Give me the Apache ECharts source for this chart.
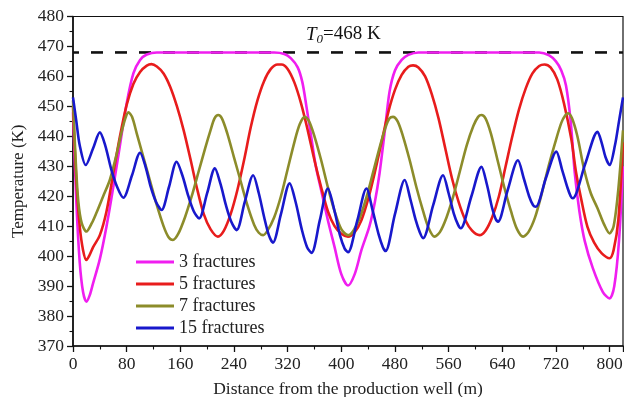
<!DOCTYPE html>
<html>
<head>
<meta charset="utf-8">
<script src="https://cdn.jsdelivr.net/npm/echarts@6/dist/echarts.min.js"></script>
<style>
  html, body { margin: 0; padding: 0; background: #fff; }
  #chart { width: 624px; height: 397px; }
</style>
</head>
<body>
<div id="chart"></div>
<script>
// Temperature profiles along the horizontal well for different fracture counts
const seriesNames = ['3 fractures', '5 fractures', '7 fractures', '15 fractures'];
const xTicks = [0, 80, 160, 240, 320, 400, 480, 560, 640, 720, 800];
const yTicks = [370, 380, 390, 400, 410, 420, 430, 440, 450, 460, 470, 480];
const initialTemp = 468; // T0, reservoir initial temperature (K)
const wellLength = 820;

// [distance (m), temperature (K)]
const fractures3 = [
  [0, 448], [5, 418], [10, 398], [15, 388], [20, 384.8], [25, 387], [30, 391], [40, 399],
  [50, 410], [60, 423], [70, 437], [80, 451], [90, 461], [100, 465.5], [110, 467.3],
  [125, 468], [300, 468], [315, 467.5], [325, 466], [335, 463], [342, 458], [348, 450],
  [355, 440], [362, 430], [370, 422], [380, 412], [390, 403], [400, 394], [410, 390.2],
  [420, 394], [430, 402], [442, 410], [450, 418], [457, 427.6], [465, 442], [472, 455],
  [480, 462], [490, 465.5], [500, 467.2], [515, 468], [695, 468], [710, 467], [720, 465],
  [728, 462], [735, 457], [742, 445], [748, 428], [755, 415], [763, 405], [775, 396],
  [790, 388], [800, 385.9], [807, 390], [814, 405], [820, 430]
];
const fractures5 = [
  [0, 450], [5, 425], [10, 410], [15, 402], [20, 398.7], [25, 400.5], [30, 403], [40, 407],
  [50, 415], [60, 427.5], [70, 440], [80, 450.5], [90, 457.5], [100, 461.5], [110, 463.6],
  [117, 464.1], [125, 463.3], [135, 461], [145, 456.5], [155, 450], [165, 442], [175, 432.5],
  [185, 422.5], [195, 414], [205, 409], [216, 406.5], [225, 408.5], [235, 414], [245, 422],
  [255, 432], [265, 443], [275, 452], [285, 458.5], [295, 462.5], [305, 464], [311, 464],
  [320, 462.5], [330, 458], [340, 451], [350, 442], [360, 432], [370, 423], [380, 415],
  [390, 410], [400, 407.5], [410, 406.5], [420, 408], [430, 412], [440, 419], [450, 428],
  [460, 438], [470, 448], [480, 455.5], [490, 460.5], [500, 463.2], [507, 463.7],
  [515, 463], [525, 460], [535, 454], [545, 446], [555, 436], [565, 426], [575, 418],
  [585, 412], [595, 408.5], [606, 407], [615, 408.5], [625, 413], [635, 420], [645, 430],
  [655, 440], [665, 449], [675, 456], [685, 461], [695, 463.5], [703, 464], [712, 463],
  [722, 459], [732, 451], [743, 439], [750, 428], [758, 418.7], [767, 409.8], [777, 404.5],
  [788, 401], [800, 399.3], [806, 402], [813, 412], [820, 438]
];
const fractures7 = [
  [0, 452], [4, 432], [8, 418], [13, 411], [20, 408.2], [28, 411], [35, 414.5], [45, 420],
  [55, 425.5], [65, 434], [72, 441], [78, 446], [82.5, 448], [88, 446.5], [95, 441],
  [105, 433], [115, 425], [125, 417], [135, 410], [142, 406.5], [149, 405.4], [157, 407.5],
  [167, 413], [177, 420], [187, 428], [197, 436], [205, 442], [211, 446], [216.5, 447.1],
  [222, 446], [230, 441], [240, 433], [250, 425], [260, 417], [270, 410.5], [277, 407.8],
  [283.5, 407], [290, 408.5], [300, 413], [310, 420], [320, 429], [330, 438], [338, 444],
  [345.6, 446.5], [352, 445], [360, 440], [370, 432], [380, 423], [390, 415], [400, 409],
  [410, 407], [418, 408.5], [428, 413], [438, 420], [448, 428.5], [458, 437], [466, 443],
  [472, 446], [477, 446.5], [484, 445], [492, 440], [502, 432], [512, 423], [522, 415],
  [530, 409.5], [539, 406.5], [547, 408], [557, 413], [567, 420], [577, 428.5], [587, 437],
  [597, 443.5], [604, 446.5], [609, 447.1], [615, 446], [623, 441], [633, 432], [643, 423],
  [653, 415], [662, 409], [671, 406.5], [679, 408], [689, 413], [699, 421], [709, 430],
  [719, 438], [728, 444.5], [734, 447], [738, 447.7], [744, 446], [752, 440], [762, 429],
  [772, 421], [782, 416], [792, 410.5], [800, 407.6], [806, 410], [812, 420], [816, 430],
  [820, 442]
];
const fractures15 = [
  [0, 453], [5, 445], [10, 437], [19, 430.4], [30, 436], [40, 441.3], [48, 437], [57, 429],
  [66, 423], [75, 419.5], [88, 427], [100, 434.5], [108, 430], [116, 423], [124, 418],
  [132, 415.4], [143, 423], [154.5, 431.5], [163, 427], [172, 420], [180, 415], [188, 412.6],
  [200, 421], [211.5, 429.3], [220, 424], [228, 417], [236, 411.5], [244, 408.7], [256, 418],
  [268.6, 427], [277, 421], [285, 413], [292, 407], [298, 404.5], [310, 414], [323, 424.3],
  [332, 418], [341, 409], [349, 403], [355.6, 401.1], [368, 412], [380, 422.6], [390, 415],
  [398, 407], [405, 402.5], [410, 401.3], [424, 412], [437.5, 422.6], [447, 415], [456, 407],
  [462, 403], [466, 401.7], [480, 414], [494.6, 425.4], [503, 419], [511, 412], [517, 408],
  [522, 406], [537, 417], [551.7, 427], [560, 421], [568, 414], [574, 410.5], [578, 409.3],
  [594, 420], [609, 429.8], [617, 424], [625, 416], [630, 412.5], [633.6, 411.5], [648, 422],
  [663.4, 432], [672, 426], [680, 420], [686, 417], [690, 416.5], [705, 426], [720.6, 434.9],
  [729, 429], [737, 423], [742, 420], [745, 419.3], [764, 431], [782, 441.5], [788, 438],
  [794, 433], [800, 430.4], [808, 437], [814, 445], [820, 453]
];

const colors = ['#f01ef0', '#e81c1c', '#8c8c2a', '#1818cc'];
const serif = '"Liberation Serif", "Times New Roman", "DejaVu Serif", serif';

const chart = echarts.init(document.getElementById('chart'), null, { renderer: 'canvas' });

function curve(name, data, color, z) {
  return {
    name: name,
    type: 'line',
    data: data,
    symbol: 'none',
    smooth: 0.3,
    z: z,
    lineStyle: { color: color, width: 2.6 },
    itemStyle: { color: color }
  };
}

chart.setOption({
  animation: false,
  backgroundColor: '#fff',
  grid: {
    left: 73, right: 1, top: 16.5, bottom: 51,
    outerBoundsMode: 'none',
    show: true, borderColor: '#111', borderWidth: 1.2, backgroundColor: 'transparent'
  },
  legend: {
    data: seriesNames,
    orient: 'vertical',
    left: 136, top: 253,
    padding: 0,
    icon: 'rect',
    itemWidth: 38, itemHeight: 3, itemGap: 4,
    textStyle: { fontFamily: serif, fontSize: 18, color: '#222', lineHeight: 18 }
  },
  xAxis: {
    type: 'value',
    min: 0, max: wellLength, interval: 80,
    name: 'Distance from the production well (m)',
    nameLocation: 'middle', nameGap: 34,
    nameTextStyle: { fontFamily: serif, fontSize: 17.5, color: '#222' },
    axisLine: { show: true, lineStyle: { color: '#111', width: 1.6 } },
    axisTick: { show: true, inside: false, length: 6, lineStyle: { color: '#111', width: 1.3 } },
    minorTick: { show: true, splitNumber: 2, length: 3.5, lineStyle: { color: '#111', width: 1.1 } },
    axisLabel: {
      fontFamily: serif, fontSize: 17.5, color: '#222', margin: 9, showMaxLabel: false,
      formatter: v => (xTicks.indexOf(v) >= 0 ? String(v) : '')
    },
    splitLine: { show: false }
  },
  yAxis: {
    type: 'value',
    min: yTicks[0], max: yTicks[yTicks.length - 1], interval: 10,
    name: 'Temperature (K)',
    nameLocation: 'middle', nameGap: 42, nameRotate: 90,
    nameTextStyle: { fontFamily: serif, fontSize: 17, color: '#222' },
    axisLine: { show: true, lineStyle: { color: '#111', width: 1.6 } },
    axisTick: { show: true, inside: false, length: 6, lineStyle: { color: '#111', width: 1.3 } },
    minorTick: { show: true, splitNumber: 2, length: 3.5, lineStyle: { color: '#111', width: 1.1 } },
    axisLabel: { fontFamily: serif, fontSize: 17.5, color: '#222', margin: 9 },
    splitLine: { show: false }
  },
  graphic: [{
    type: 'text',
    left: 306, top: 25,
    style: {
      text: '{t|T}{s|0}{e|=468 K}',
      rich: {
        t: { fontFamily: serif, fontSize: 19, fontStyle: 'italic', fill: '#111' },
        s: { fontFamily: serif, fontSize: 13, fontStyle: 'italic', fill: '#111', padding: [10, 0, 0, 0] },
        e: { fontFamily: serif, fontSize: 19, fill: '#111' }
      }
    }
  }],
  series: [
    {
      name: 'T0',
      type: 'line',
      data: [[0, initialTemp], [wellLength, initialTemp]],
      symbol: 'none',
      z: 1,
      lineStyle: { color: '#111', width: 2.6, type: [12, 12], dashOffset: 6 }
    },
    curve(seriesNames[0], fractures3, colors[0], 2),
    curve(seriesNames[1], fractures5, colors[1], 3),
    curve(seriesNames[2], fractures7, colors[2], 4),
    curve(seriesNames[3], fractures15, colors[3], 5)
  ]
});
</script>
</body>
</html>
